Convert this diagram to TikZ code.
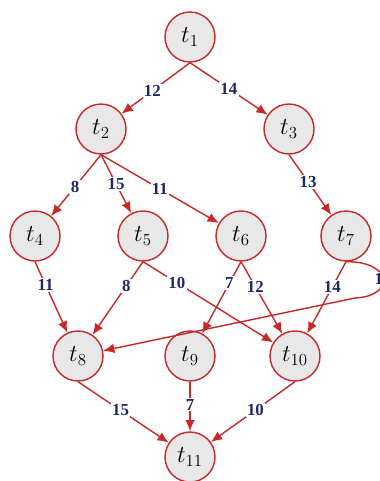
\documentclass[tikz,border=0pt]{standalone}
\usepackage{amsmath,amssymb}
\usepackage{fontspec}
\newfontfamily\labfont{Liberation Serif}
\usepackage{xcolor}
\usepackage{tikz}
\usetikzlibrary{arrows.meta,positioning}
\definecolor{edgered}{RGB}{200,40,40}
\definecolor{labblue}{RGB}{30,40,105}
\definecolor{taskgray}{RGB}{232,232,232}
\tikzset{
  task/.style={circle, draw=edgered, fill=taskgray, line width=1pt, minimum size=1.25cm, inner sep=0pt, font=\LARGE},
  tarrow/.style={-{Latex[length=2.8mm,width=2.4mm]}, line width=1pt, edgered},
  wlab/.style={fill=white, inner sep=1pt, font=\labfont\bfseries\large, text=labblue}
}

\begin{document}
\begin{tikzpicture}
\useasboundingbox (0,0) rectangle (9.5,-12.025);
% tasks
\node[task] (t1) at (4.75,-0.925) {$t_{1}$};
\node[task] (t2) at (2.525,-3.225) {$t_{2}$};
\node[task] (t3) at (7.225,-3.225) {$t_{3}$};
\node[task] (t4) at (0.875,-5.9) {$t_{4}$};
\node[task] (t5) at (3.575,-5.9) {$t_{5}$};
\node[task] (t6) at (6.025,-5.9) {$t_{6}$};
\node[task] (t7) at (8.65,-5.9) {$t_{7}$};
\node[task] (t8) at (1.95,-8.9) {$t_{8}$};
\node[task] (t9) at (4.75,-8.9) {$t_{9}$};
\node[task] (t10) at (7.375,-8.9) {$t_{10}$};
\node[task] (t11) at (4.75,-11.425) {$t_{11}$};
\coordinate (turn) at (8.875,-7.45);
% edges
\draw[tarrow] (t1.south) -- node[wlab, pos=0.55] {12} (t2);
\draw[tarrow] (t1.south) -- node[wlab, pos=0.5] {14} (t3);
\draw[tarrow] (t2.south) -- node[wlab, pos=0.52] {8} (t4);
\draw[tarrow] (t2.south) -- node[wlab, pos=0.5] {15} (t5);
\draw[tarrow] (t2.south) -- node[wlab, pos=0.5] {11} (t6);
\draw[tarrow] (t3.south) -- node[wlab, pos=0.45] {13} (t7);
\draw[tarrow] (t7.south) .. controls (9.8,-6.525) and (9.9,-7.4) .. node[wlab, pos=0.5] {15} (turn) -- (t8);
\draw[tarrow] (t4.south) -- node[wlab, pos=0.33] {11} (t8);
\draw[tarrow] (t5.south) -- node[wlab, pos=0.33] {8} (t8);
\draw[tarrow] (t5.south) -- node[wlab, pos=0.26] {10} (t10);
\draw[tarrow] (t6.south) -- node[wlab, pos=0.3] {7} (t9);
\draw[tarrow] (t6.south) -- node[wlab, pos=0.35] {12} (t10);
\draw[tarrow] (t7.south) -- node[wlab, pos=0.35] {14} (t10);
\draw[tarrow] (t8.south) -- node[wlab, pos=0.47] {15} (t11);
\draw[tarrow] (t9.south) -- node[wlab, pos=0.46] {7} (t11);
\draw[tarrow] (t10.south) -- node[wlab, pos=0.47] {10} (t11);
\end{tikzpicture}
\end{document}
